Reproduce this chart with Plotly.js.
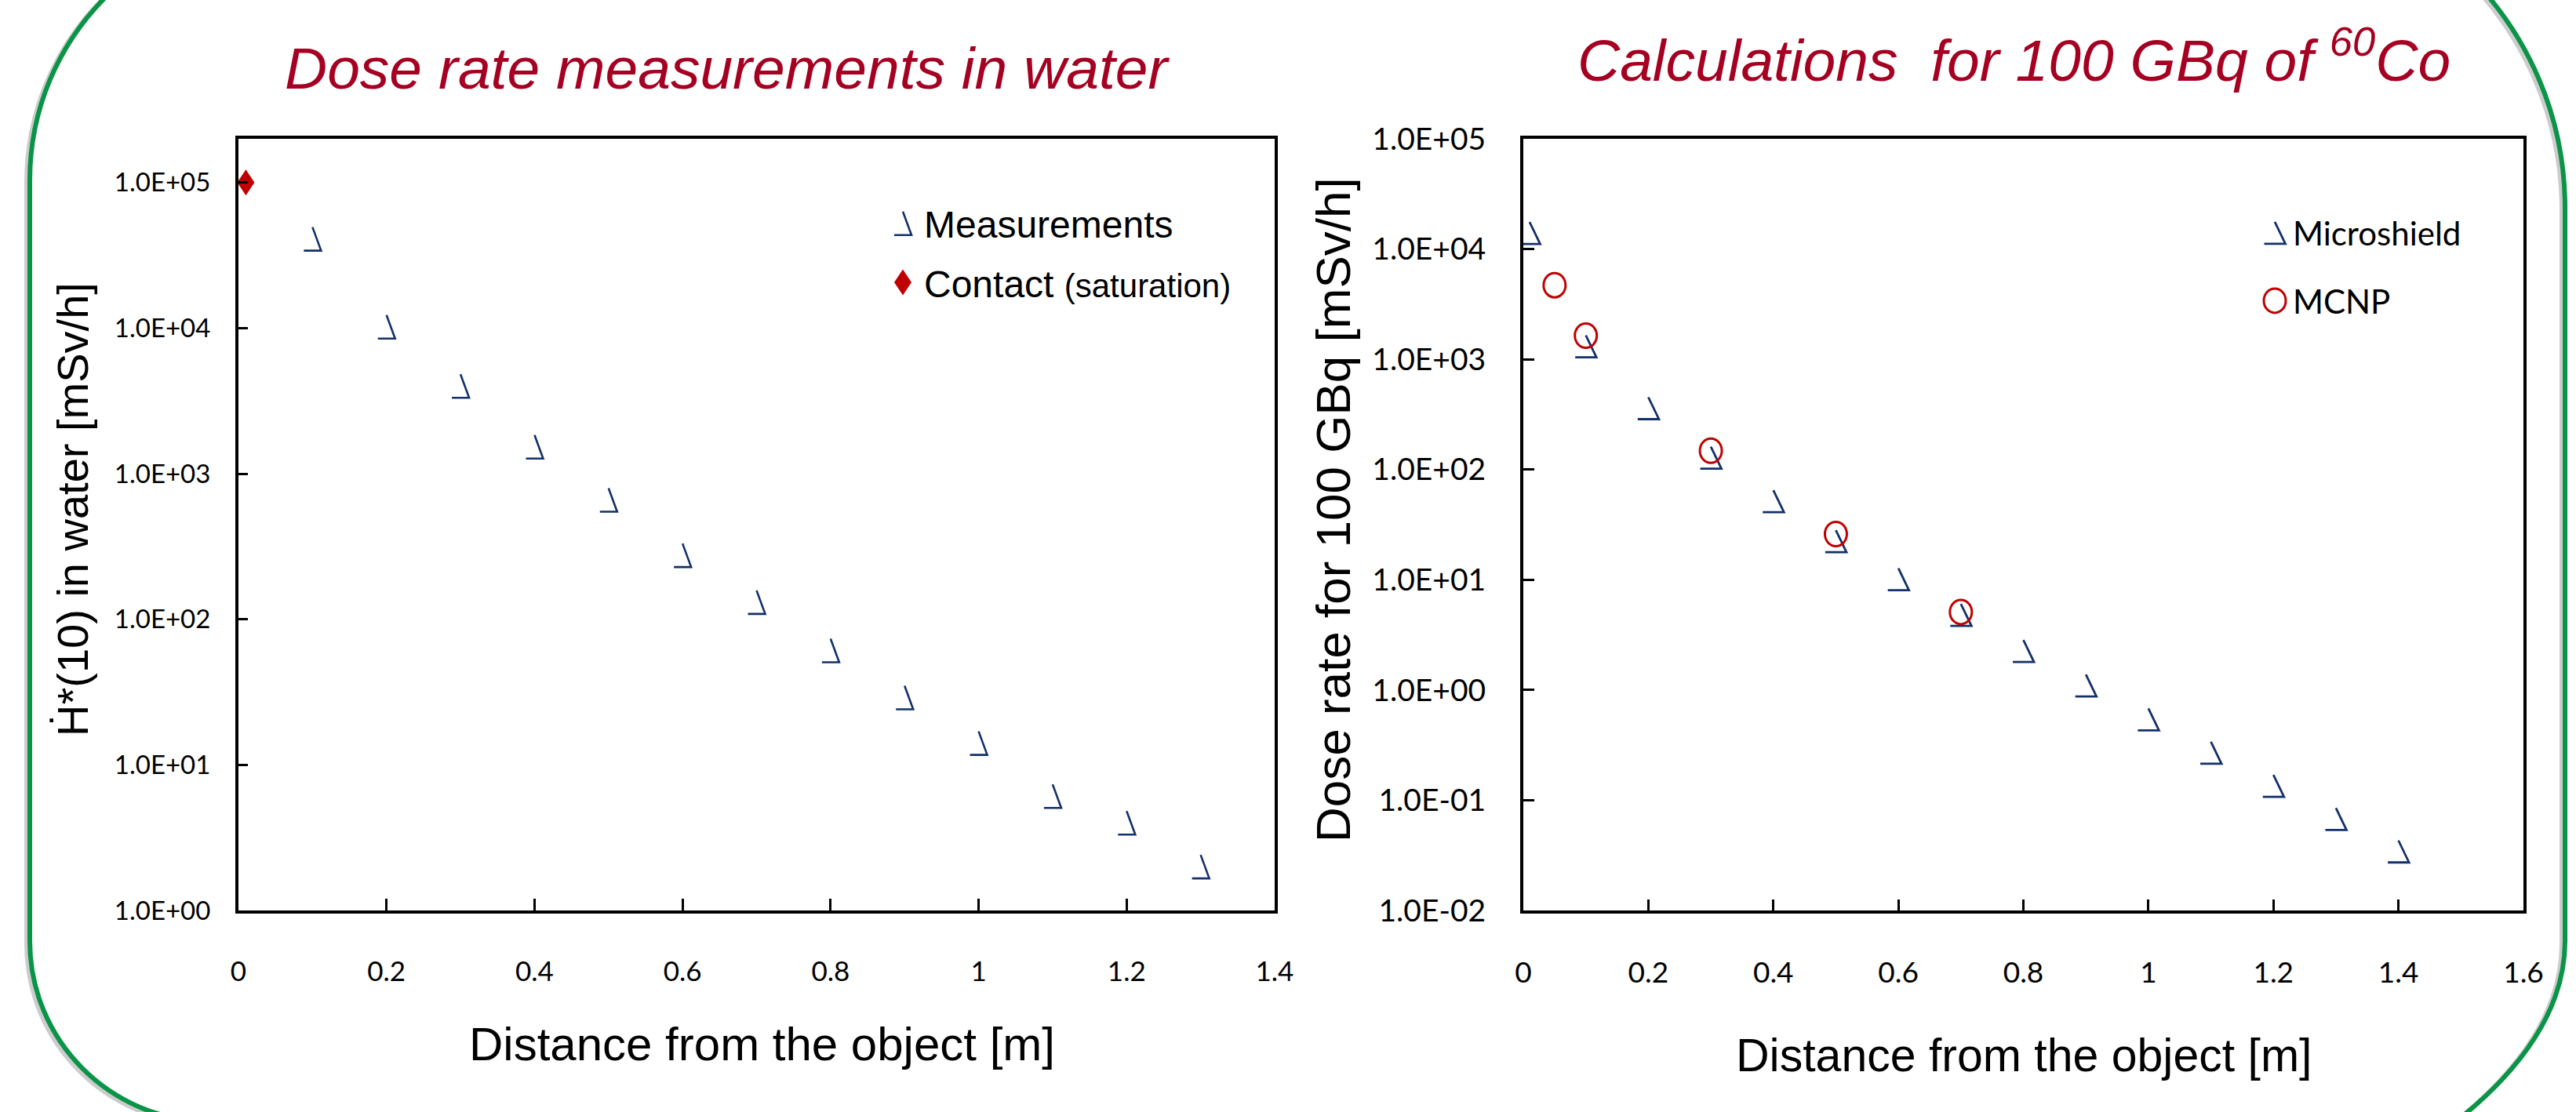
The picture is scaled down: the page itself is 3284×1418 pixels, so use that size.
<!DOCTYPE html>
<html>
<head>
<meta charset="utf-8">
<script src="https://cdn.plot.ly/plotly-3.0.1.min.js"></script>
<style>
  html, body { margin: 0; padding: 0; background: #ffffff; }
  #chart { width: 3284px; height: 1418px; }
</style>
</head>
<body>
<div id="chart"></div>
<script>
// ---------------- DATA ----------------
// Left chart: dose rate measurements in water
const measDistance = [0.1, 0.2, 0.3, 0.4, 0.5, 0.6, 0.7, 0.8, 0.9, 1.0, 1.1, 1.2, 1.3];
const measDoseRate = [4.1e4, 1.02e4, 4.0e3, 1.53e3, 660, 275, 131, 61, 29, 14.1, 6.1, 4.0, 2.0];
const contactDistance = [0.01];
const contactDoseRate = [1.0e5];

// Right chart: calculations for 100 GBq of 60Co
const microDistance = [0.01, 0.1, 0.2, 0.3, 0.4, 0.5, 0.6, 0.7, 0.8, 0.9, 1.0, 1.1, 1.2, 1.3, 1.4];
const microDoseRate = [1.4e4, 1.31e3, 360, 128, 51.6, 22.4, 10.1, 4.8, 2.26, 1.10, 0.54, 0.27, 0.135, 0.0675, 0.0343];
const mcnpDistance = [0.05, 0.1, 0.3, 0.5, 0.7];
const mcnpDoseRate = [4.7e3, 1.64e3, 148, 26, 5.1];

// Tick labels
const leftYTickVals = [1, 10, 100, 1e3, 1e4, 1e5];
const leftYTickText = ['1.0E+00', '1.0E+01', '1.0E+02', '1.0E+03', '1.0E+04', '1.0E+05'];
const rightYTickVals = [0.01, 0.1, 1, 10, 100, 1e3, 1e4, 1e5];
const rightYTickText = ['1.0E-02', '1.0E-01', '1.0E+00', '1.0E+01', '1.0E+02', '1.0E+03', '1.0E+04', '1.0E+05'];

// Text
const leftTitle = 'Dose rate measurements in water';
const rightTitle = 'Calculations\u00a0 for 100 GBq of <sup>60</sup>Co';
const xTitle = 'Distance from the object [m]';
const leftYTitle = '\u1E22*(10) in water [mSv/h]';
const rightYTitle = 'Dose rate for 100 GBq [mSv/h]';
const legendNames = ['Measurements', 'Contact <span style="font-size:42px">(saturation)</span>', 'Microshield', 'MCNP'];

// ---------------- STYLE ----------------
const W = 3284, H = 1418;
const NAVY = '#13306A', RED = '#C00000', TITLE_RED = '#A50021', GREEN = '#0A9447';
const px = x => x / W;
const py = y => 1 - y / H;

const markerStyles = {
  meas:    { shape: 'tri',  w: 22, h: 30, color: NAVY, lw: 2.6 },
  contact: { shape: 'dia',  w: 22, h: 33, color: RED,  lw: 0, fill: RED },
  micro:   { shape: 'tri',  w: 27, h: 28, color: NAVY, lw: 2.8 },
  mcnp:    { shape: 'circ', w: 28, h: 31, color: RED,  lw: 3 }
};

const traces = [
  { x: measDistance, y: measDoseRate, name: legendNames[0], uid: 'meas', type: 'scatter', mode: 'markers',
    xaxis: 'x', yaxis: 'y', legend: 'legend', legendgroup: 'g1',
    marker: { symbol: 'triangle-up-open', size: 20, color: NAVY, line: { width: 2.6, color: NAVY } } },
  { x: contactDistance, y: contactDoseRate, name: legendNames[1], uid: 'contact', type: 'scatter', mode: 'markers',
    xaxis: 'x', yaxis: 'y', legend: 'legend', legendgroup: 'g2',
    marker: { symbol: 'diamond', size: 22, color: RED } },
  { x: microDistance, y: microDoseRate, name: legendNames[2], uid: 'micro', type: 'scatter', mode: 'markers',
    xaxis: 'x2', yaxis: 'y2', legend: 'legend2', legendgroup: 'g3',
    marker: { symbol: 'triangle-up-open', size: 22, color: NAVY, line: { width: 2.8, color: NAVY } } },
  { x: mcnpDistance, y: mcnpDoseRate, name: legendNames[3], uid: 'mcnp', type: 'scatter', mode: 'markers',
    xaxis: 'x2', yaxis: 'y2', legend: 'legend2', legendgroup: 'g4',
    marker: { symbol: 'circle-open', size: 29, color: RED, line: { width: 3, color: RED } } }
];

const calFont = 'Lato, Carlito, Calibri, sans-serif';
const arialFont = 'Liberation Sans, Arial, sans-serif';

function axisBase(extra) {
  return Object.assign({
    showline: true, mirror: true, linecolor: '#000', linewidth: 4,
    ticks: 'inside', tickcolor: '#000', tickwidth: 3,
    showgrid: false, zeroline: false, fixedrange: true
  }, extra);
}

const yDomain = [py(1161), py(177)];

// Green rounded frame (style only) built in pixel space and converted to paper coords
function framePath(dx, dy) {
  const k = 0.5523;
  const P = (x, y) => `${px(x + dx).toFixed(5)},${py(y + dy).toFixed(5)}`;
  const L = 38, R = 3270;
  const tl = { r: 331, cx: 369, cy: 230 };
  const tr = { r: 420, cx: 2850, cy: 265 };
  const bl = { r: 230, cx: 268, cy: 1200 };
  let d = `M${P(L, tl.cy)}`;
  d += ` C${P(L, tl.cy - k * tl.r)} ${P(tl.cx - k * tl.r, tl.cy - tl.r)} ${P(tl.cx, tl.cy - tl.r)}`;
  d += ` L${P(tr.cx, tr.cy - tr.r)}`;
  d += ` C${P(tr.cx + k * tr.r, tr.cy - tr.r)} ${P(R, tr.cy - k * tr.r)} ${P(R, tr.cy)}`;
  d += ` L${P(R, 1200)}`;
  d += ` C${P(R, 1320)} ${P(3160, 1440)} ${P(2960, 1530)}`;
  d += ` L${P(bl.cx, bl.cy + bl.r)}`;
  d += ` C${P(bl.cx - k * bl.r, bl.cy + bl.r)} ${P(L, bl.cy + k * bl.r)} ${P(L, bl.cy)}`;
  d += ' Z';
  return d;
}

const layout = {
  width: W, height: H,
  margin: { l: 0, r: 0, t: 0, b: 0, pad: 0 },
  paper_bgcolor: '#ffffff', plot_bgcolor: '#ffffff',
  showlegend: true,
  hovermode: false,
  xaxis: axisBase({
    domain: [px(304), px(1625)], anchor: 'y', range: [0, 1.4], dtick: 0.2, tick0: 0,
    ticklen: 15, ticklabelstandoff: 44,
    tickfont: { family: calFont, size: 35, color: '#000' }
  }),
  yaxis: axisBase({
    domain: yDomain, anchor: 'x', type: 'log', range: [0, 5.3],
    tickvals: leftYTickVals, ticktext: leftYTickText, ticklen: 12, ticklabelstandoff: 25,
    tickfont: { family: calFont, size: 33, color: '#000' }
  }),
  xaxis2: axisBase({
    domain: [px(1942), px(3217)], anchor: 'y2', range: [0, 1.6], dtick: 0.2, tick0: 0,
    ticklen: 14, ticklabelstandoff: 44,
    tickfont: { family: calFont, size: 37, color: '#000' }
  }),
  yaxis2: axisBase({
    domain: yDomain, anchor: 'x2', type: 'log', range: [-2, 5],
    tickvals: rightYTickVals, ticktext: rightYTickText, ticklen: 14, ticklabelstandoff: 36,
    tickfont: { family: calFont, size: 39, color: '#000' }
  }),
  legend: {
    x: px(1124), y: py(247), xanchor: 'left', yanchor: 'top',
    bgcolor: 'rgba(0,0,0,0)', borderwidth: 0, itemwidth: 44, tracegroupgap: 10,
    font: { family: arialFont, size: 48, color: '#000' }
  },
  legend2: {
    x: px(2877), y: py(263), xanchor: 'left', yanchor: 'top',
    bgcolor: 'rgba(0,0,0,0)', borderwidth: 0, itemwidth: 36, tracegroupgap: 29,
    font: { family: calFont, size: 42, color: '#000' }
  },
  annotations: [
    { text: '<i>' + leftTitle + '</i>', xref: 'paper', yref: 'paper', x: px(928), y: py(87),
      xanchor: 'center', yanchor: 'middle', showarrow: false,
      font: { family: arialFont, size: 75, color: TITLE_RED } },
    { text: '<i>' + rightTitle + '</i>', xref: 'paper', yref: 'paper', x: px(2567), y: py(71),
      xanchor: 'center', yanchor: 'middle', showarrow: false,
      font: { family: arialFont, size: 75, color: TITLE_RED } },
    { text: xTitle, xref: 'paper', yref: 'paper', x: px(972), y: py(1331),
      xanchor: 'center', yanchor: 'middle', showarrow: false,
      font: { family: arialFont, size: 60, color: '#000' } },
    { text: xTitle, xref: 'paper', yref: 'paper', x: px(2580), y: py(1346),
      xanchor: 'center', yanchor: 'middle', showarrow: false,
      font: { family: arialFont, size: 59, color: '#000' } },
    { text: leftYTitle, xref: 'paper', yref: 'paper', x: px(93), y: py(650), textangle: -90,
      xanchor: 'center', yanchor: 'middle', showarrow: false,
      font: { family: arialFont, size: 56, color: '#000' } },
    { text: rightYTitle, xref: 'paper', yref: 'paper', x: px(1700), y: py(650), textangle: -90,
      xanchor: 'center', yanchor: 'middle', showarrow: false,
      font: { family: arialFont, size: 62, color: '#000' } }
  ],
  shapes: [
    { type: 'path', xref: 'paper', yref: 'paper', path: framePath(-4, 3),
      line: { color: 'rgba(0,0,0,0.2)', width: 6 }, fillcolor: 'rgba(0,0,0,0)' },
    { type: 'path', xref: 'paper', yref: 'paper', path: framePath(0, 0),
      line: { color: GREEN, width: 6 }, fillcolor: 'rgba(0,0,0,0)' }
  ]
};

// Custom marker glyphs (Excel-style open triangle, tall diamond, ellipse)
function shapePath(m) {
  const w = m.w / 2, h = m.h / 2;
  if (m.shape === 'tri') return `M${-w},${h}H${w}L0,${-h}`;
  if (m.shape === 'dia') return `M${-w},0L0,${-h}L${w},0L0,${h}Z`;
  return `M${w},0A${w},${h} 0 1,1 0,${-h}A${w},${h} 0 0,1 ${w},0Z`;
}
function applyPath(p, m) {
  p.setAttribute('d', shapePath(m));
  p.style.fill = m.fill || 'none';
  p.style.fillOpacity = 1;
  p.style.stroke = m.lw > 0 ? m.color : 'none';
  p.style.strokeWidth = m.lw + 'px';
  p.style.strokeOpacity = 1;
  p.style.strokeLinejoin = 'miter';
  p.style.strokeLinecap = 'butt';
}
function findTrace(d) {
  if (!d) return null;
  if (d.trace) return d.trace;
  if (Array.isArray(d) && d[0]) {
    if (d[0].trace) return d[0].trace;
    if (Array.isArray(d[0]) && d[0][0] && d[0][0].trace) return d[0][0].trace;
  }
  return null;
}
function restyleMarkers() {
  document.querySelectorAll('g.trace').forEach(g => {
    const tr = findTrace(g.__data__);
    if (!tr || !markerStyles[tr.uid]) return;
    g.querySelectorAll('path.point').forEach(p => applyPath(p, markerStyles[tr.uid]));
  });
  document.querySelectorAll('g.traces').forEach(g => {
    const tr = findTrace(g.__data__);
    if (!tr || !markerStyles[tr.uid]) return;
    g.querySelectorAll('path.scatterpts').forEach(p => applyPath(p, markerStyles[tr.uid]));
  });
}

const gd = document.getElementById('chart');
Plotly.newPlot(gd, traces, layout, { staticPlot: true, displayModeBar: false }).then(() => {
  restyleMarkers();
  gd.on && gd.on('plotly_afterplot', restyleMarkers);
  setTimeout(restyleMarkers, 50);
});
</script>
</body>
</html>
